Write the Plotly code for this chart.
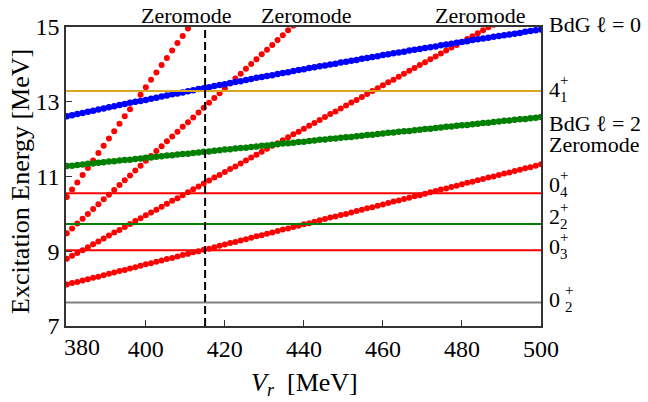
import numpy as np
import plotly.graph_objects as go

# ---------------- data ----------------
vr = np.linspace(380, 500, 91)  # V_r sample grid [MeV]

# BdG l=0 (blue)
bdg_l0 = [12.61, 12.64, 12.67, 12.70, 12.73, 12.76, 12.79, 12.82, 12.85, 12.88,
          12.91, 12.94, 12.97, 13.00, 13.02, 13.05, 13.08, 13.11, 13.14, 13.17,
          13.20, 13.22, 13.25, 13.28, 13.31, 13.34, 13.36, 13.39, 13.42, 13.45,
          13.47, 13.50, 13.53, 13.55, 13.58, 13.61, 13.64, 13.66, 13.69, 13.71,
          13.74, 13.77, 13.79, 13.82, 13.85, 13.87, 13.90, 13.92, 13.95, 13.97,
          14.00, 14.02, 14.05, 14.07, 14.10, 14.12, 14.15, 14.17, 14.20, 14.22,
          14.25, 14.27, 14.30, 14.32, 14.34, 14.37, 14.39, 14.41, 14.44, 14.46,
          14.48, 14.51, 14.53, 14.55, 14.58, 14.60, 14.62, 14.65, 14.67, 14.69,
          14.71, 14.74, 14.76, 14.78, 14.80, 14.82, 14.84, 14.87, 14.89, 14.91,
          14.93]

# BdG l=2 (green)
bdg_l2 = [11.28, 11.29, 11.31, 11.32, 11.34, 11.35, 11.37, 11.38, 11.40, 11.41,
          11.43, 11.44, 11.45, 11.47, 11.48, 11.50, 11.51, 11.53, 11.54, 11.56,
          11.57, 11.59, 11.60, 11.61, 11.63, 11.64, 11.66, 11.67, 11.69, 11.70,
          11.72, 11.73, 11.75, 11.76, 11.77, 11.79, 11.80, 11.82, 11.83, 11.85,
          11.86, 11.88, 11.89, 11.90, 11.92, 11.93, 11.95, 11.96, 11.98, 11.99,
          12.01, 12.02, 12.04, 12.05, 12.06, 12.08, 12.09, 12.11, 12.12, 12.14,
          12.15, 12.17, 12.18, 12.20, 12.21, 12.22, 12.24, 12.25, 12.27, 12.28,
          12.30, 12.31, 12.33, 12.34, 12.36, 12.37, 12.38, 12.40, 12.41, 12.43,
          12.44, 12.46, 12.47, 12.49, 12.50, 12.52, 12.53, 12.54, 12.56, 12.57,
          12.59]

# Zeromode branches (red), shallowest to steepest
zero_1 = [8.11, 8.15, 8.18, 8.22, 8.25, 8.29, 8.32, 8.36, 8.40, 8.43,
          8.47, 8.50, 8.54, 8.57, 8.61, 8.65, 8.68, 8.72, 8.75, 8.79,
          8.82, 8.86, 8.90, 8.93, 8.97, 9.00, 9.04, 9.07, 9.11, 9.15,
          9.18, 9.22, 9.25, 9.29, 9.32, 9.36, 9.40, 9.43, 9.47, 9.50,
          9.54, 9.58, 9.61, 9.65, 9.68, 9.72, 9.75, 9.79, 9.83, 9.86,
          9.90, 9.93, 9.97, 10.00, 10.04, 10.08, 10.11, 10.15, 10.18, 10.22,
          10.25, 10.29, 10.33, 10.36, 10.40, 10.43, 10.47, 10.50, 10.54, 10.58,
          10.61, 10.65, 10.68, 10.72, 10.75, 10.79, 10.83, 10.86, 10.90, 10.93,
          10.97, 11.00, 11.04, 11.08, 11.11, 11.15, 11.18, 11.22, 11.25, 11.29,
          11.33]

zero_2 = [8.80, 8.88, 8.95, 9.03, 9.11, 9.19, 9.26, 9.34, 9.42, 9.50,
          9.57, 9.65, 9.73, 9.81, 9.88, 9.96, 10.04, 10.11, 10.19, 10.27,
          10.35, 10.42, 10.50, 10.58, 10.66, 10.73, 10.81, 10.89, 10.97, 11.04,
          11.12, 11.20, 11.27, 11.35, 11.43, 11.51, 11.58, 11.66, 11.74, 11.82,
          11.89, 11.97, 12.05, 12.13, 12.20, 12.28, 12.36, 12.43, 12.51, 12.59,
          12.67, 12.74, 12.82, 12.90, 12.98, 13.05, 13.13, 13.21, 13.29, 13.36,
          13.44, 13.52, 13.59, 13.67, 13.75, 13.83, 13.90, 13.98, 14.06, 14.14,
          14.21, 14.29, 14.37, 14.45, 14.52, 14.60, 14.68, 14.75, 14.83, 14.91,
          14.99, 15.06]

zero_3 = [9.48, 9.61, 9.74, 9.87, 10.00, 10.13, 10.26, 10.39, 10.51, 10.64,
          10.77, 10.90, 11.03, 11.16, 11.29, 11.42, 11.55, 11.68, 11.81, 11.94,
          12.07, 12.20, 12.33, 12.45, 12.58, 12.71, 12.84, 12.97, 13.10, 13.23,
          13.36, 13.49, 13.62, 13.75, 13.88, 14.01, 14.14, 14.27, 14.39, 14.52,
          14.65, 14.78, 14.91, 15.04]

zero_4 = [10.45, 10.65, 10.84, 11.04, 11.23, 11.43, 11.63, 11.82, 12.02, 12.21,
          12.41, 12.61, 12.80, 13.00, 13.19, 13.39, 13.59, 13.78, 13.98, 14.17,
          14.37, 14.57, 14.76, 14.96, 15.15]

# Experimental levels (horizontal lines)
level_names = ["0_2^+", "0_3^+", "2_2^+", "0_4^+", "4_1^+"]
level_energy = [7.63, 9.03, 9.73, 10.55, 13.29]
level_colors = ["#808080", "#ff0000", "#008000", "#ff0000", "#daa520"]

zeromode_vr = 415  # dashed vertical line

x_ticks = [380, 400, 420, 440, 460, 480, 500]
y_ticks = [7, 9, 11, 13, 15]
x_range = [379.8, 500]
y_range = [7, 15]

# ---------------- figure ----------------
FONT = "Liberation Serif, DejaVu Serif, serif"
W_FIG, H_FIG = 648, 402
L, R, T, B = 66, 541, 27, 326
PW, PH = R - L, B - T


def px(xp):
    return (xp - L) / PW


def py(yp):
    return (B - yp) / PH


fig = go.Figure()

red = "#ff0000"
for series in (zero_1, zero_2, zero_3, zero_4):
    fig.add_trace(go.Scatter(x=vr[:len(series)], y=series, mode="markers",
                             marker=dict(color=red, size=6, line=dict(width=0)),
                             showlegend=False))
fig.add_trace(go.Scatter(x=vr, y=bdg_l0, mode="markers",
                         marker=dict(color="#0000ff", size=6.5, line=dict(width=0)),
                         showlegend=False))
fig.add_trace(go.Scatter(x=vr, y=bdg_l2, mode="markers",
                         marker=dict(color="#008000", size=6.5, line=dict(width=0)),
                         showlegend=False))

for e, c in zip(level_energy, level_colors):
    fig.add_trace(go.Scatter(x=[x_range[0], x_range[1]], y=[e, e], mode="lines",
                             line=dict(color=c, width=2), showlegend=False))

fig.add_trace(go.Scatter(x=[zeromode_vr, zeromode_vr], y=y_range, mode="lines",
                         line=dict(color="black", width=2, dash="8px,4px"),
                         showlegend=False))

x_ticktext = [str(v) for v in x_ticks]
x_ticktext[0] = ""  # first label is drawn shifted right, as in the reference

fig.update_layout(
    width=W_FIG, height=H_FIG,
    margin=dict(l=L, r=W_FIG - R, t=T, b=H_FIG - B),
    paper_bgcolor="white", plot_bgcolor="white",
    font=dict(family=FONT, color="black"),
    showlegend=False,
)
fig.update_xaxes(range=x_range, tickvals=x_ticks, ticktext=x_ticktext,
                 ticks="inside", ticklen=6,
                 tickwidth=1, tickcolor="#333", showgrid=False, zeroline=False,
                 showline=True, linecolor="#333", linewidth=1.5, mirror=True,
                 tickfont=dict(size=24, family=FONT), ticklabelstandoff=0)
fig.update_yaxes(range=y_range, tickvals=y_ticks, ticks="inside", ticklen=6,
                 tickwidth=1, tickcolor="#333", showgrid=False, zeroline=False,
                 showline=True, linecolor="#333", linewidth=1.5, mirror=True,
                 tickfont=dict(size=24, family=FONT), ticklabelstandoff=0)

ann = []


def text(s, xp, yp, size=22, xanchor="left", angle=0, height=None):
    a = dict(text=s, x=px(xp), y=py(yp), xref="paper", yref="paper",
             showarrow=False, xanchor=xanchor, yanchor="middle",
             font=dict(size=size, family=FONT, color="black"),
             textangle=angle)
    if height is not None:
        a["height"] = height
    ann.append(a)


# shifted first x tick label
text(str(x_ticks[0]), 82, 347, size=24, xanchor="center")

# axis titles
text("Excitation Energy [MeV]", 20, 182, size=26, xanchor="center", angle=-90)
text("<i>V<sub>r</sub></i>  [MeV]", 304, 384, size=26, xanchor="center")

# top labels
for xc in (186, 306, 480):
    text("Zeromode", xc, 15, size=22, xanchor="center")

# right labels
text("BdG ℓ = 0", 547, 24)
text("BdG ℓ = 2", 547, 123, height=20)
text("Zeromode", 547, 144, height=20)


def level(base, sub, yc, dx=0):
    text(base, 547, yc, size=22)
    text("+", 558 + dx, yc - 9, size=15, height=12)
    text(sub, 558 + dx, yc + 8, size=15, height=12)


level("4", "1", 89)
level("0", "4", 184)
level("2", "2", 216)
level("0", "3", 246)
level("0", "2", 299, dx=5)

fig.update_layout(annotations=ann)
fig.write_html("out.html")
